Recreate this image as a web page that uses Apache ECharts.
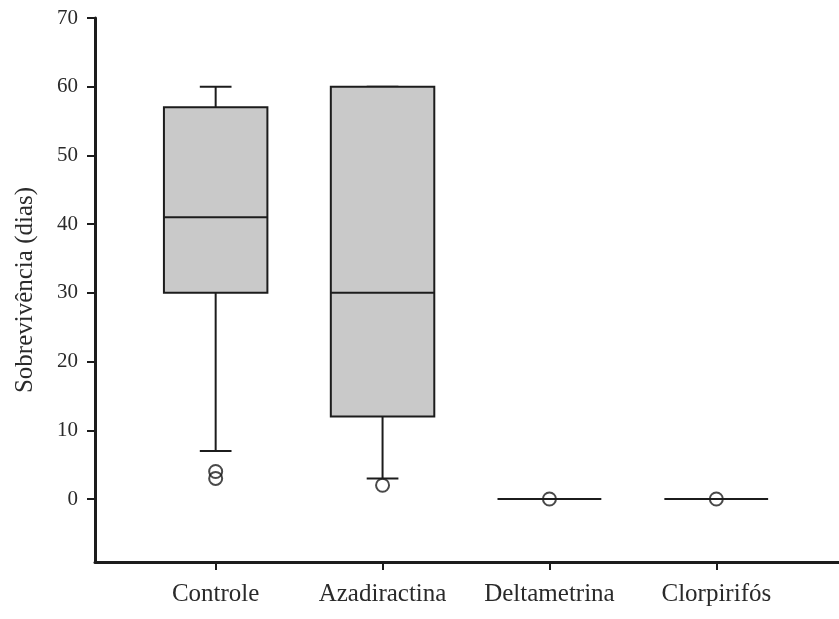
<!DOCTYPE html>
<html>
<head>
<meta charset="utf-8">
<script src="https://cdn.jsdelivr.net/npm/echarts@6/dist/echarts.min.js"></script>
<style>
html,body{margin:0;padding:0;background:#fff;}
#chart{width:839px;height:619px;}
</style>
</head>
<body>
<div id="chart"></div>
<script>
// ---- data ----
var categories = ['Controle', 'Azadiractina', 'Deltametrina', 'Clorpirifós'];
var whiskerLow  = [7, 3, 0, 0];
var q1          = [30, 12, 0, 0];
var median      = [41, 30, 0, 0];
var q3          = [57, 60, 0, 0];
var whiskerHigh = [60, 60, 0, 0];
var outlierCat  = [0, 0, 1, 2, 3];
var outlierVal  = [3, 4, 2, 0, 0];
var yTicks = [0, 10, 20, 30, 40, 50, 60, 70];
var yTitle = 'Sobrevivência (dias)';

// ---- build ----
var boxData = categories.map(function (c, i) {
  return [i + 1, whiskerLow[i], q1[i], median[i], q3[i], whiskerHigh[i]];
});
var outData = outlierCat.map(function (c, i) { return [c + 1, outlierVal[i]]; });
var xPos = categories.map(function (c, i) { return i + 1; });

var lineColor = '#1c1c1c';
var textColor = '#2a2a2a';
var fontFam = '"Liberation Serif", "Times New Roman", serif';

function renderBox(params, api) {
  var x = api.value(0);
  var halfBox = api.size([0.62, 0])[0] / 2;
  var halfCap = api.size([0.19, 0])[0] / 2;
  var pLow = api.coord([x, api.value(1)]);
  var pQ1 = api.coord([x, api.value(2)]);
  var pMed = api.coord([x, api.value(3)]);
  var pQ3 = api.coord([x, api.value(4)]);
  var pHigh = api.coord([x, api.value(5)]);
  var cx = pMed[0];
  var ls = { stroke: lineColor, lineWidth: 2 };
  var children = [
    { type: 'line', shape: { x1: cx, y1: pQ1[1], x2: cx, y2: pLow[1] }, style: ls },
    { type: 'line', shape: { x1: cx, y1: pQ3[1], x2: cx, y2: pHigh[1] }, style: ls },
    { type: 'line', shape: { x1: cx - halfCap, y1: pLow[1], x2: cx + halfCap, y2: pLow[1] }, style: ls },
    { type: 'line', shape: { x1: cx - halfCap, y1: pHigh[1], x2: cx + halfCap, y2: pHigh[1] }, style: ls },
    { type: 'rect', shape: { x: cx - halfBox, y: pQ3[1], width: halfBox * 2, height: pQ1[1] - pQ3[1] },
      style: { fill: '#c9c9c9', stroke: lineColor, lineWidth: 2 } },
    { type: 'line', shape: { x1: cx - halfBox, y1: pMed[1], x2: cx + halfBox, y2: pMed[1] }, style: ls }
  ];
  return { type: 'group', children: children };
}

var chart = echarts.init(document.getElementById('chart'), null, { renderer: 'canvas' });
chart.setOption({
  backgroundColor: '#ffffff',
  animation: false,
  grid: { left: 95, right: 0, top: 18, bottom: 57, containLabel: false, outerBoundsMode: 'none' },
  xAxis: {
    type: 'value',
    min: 0.277,
    max: 4.735,
    splitLine: { show: false },
    axisLine: { show: true, onZero: false, lineStyle: { color: lineColor, width: 3 } },
    axisTick: { show: true, length: 8, customValues: xPos, lineStyle: { color: lineColor, width: 2 } },
    axisLabel: {
      customValues: xPos,
      margin: 20,
      color: textColor,
      fontFamily: fontFam,
      fontSize: 25,
      formatter: function (v) { return categories[Math.round(v) - 1]; }
    }
  },
  yAxis: {
    type: 'value',
    min: -9.17,
    max: 70,
    splitLine: { show: false },
    axisLine: { show: true, onZero: false, lineStyle: { color: lineColor, width: 3 } },
    axisTick: { show: true, length: 8, customValues: yTicks, lineStyle: { color: lineColor, width: 2 } },
    axisLabel: {
      customValues: yTicks,
      margin: 17,
      color: textColor,
      fontFamily: fontFam,
      fontSize: 21
    },
    name: yTitle,
    nameLocation: 'middle',
    nameGap: 57,
    nameRotate: 90,
    nameTextStyle: { color: textColor, fontFamily: fontFam, fontSize: 25 }
  },
  series: [
    {
      type: 'custom',
      renderItem: renderBox,
      data: boxData,
      encode: { x: 0, y: [1, 2, 3, 4, 5] },
      z: 2
    },
    {
      type: 'scatter',
      data: outData,
      symbol: 'circle',
      symbolSize: 13,
      itemStyle: { color: 'rgba(0,0,0,0)', borderColor: lineColor, borderWidth: 2 },
      z: 3
    }
  ]
});
</script>
</body>
</html>
